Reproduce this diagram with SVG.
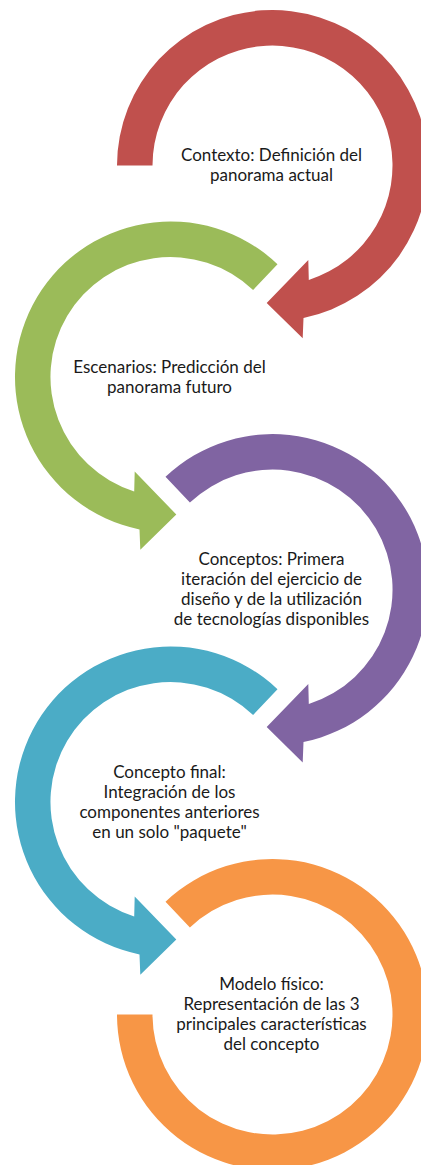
<svg xmlns="http://www.w3.org/2000/svg" width="421" height="1165" viewBox="0 0 421 1165">
<style>
.lbl{font-family:Lato,"Liberation Sans",sans-serif;font-size:17px;fill:#1a1a1a;text-anchor:middle}
.red{fill:#C0504D}.green{fill:#9BBB59}.purple{fill:#8064A2}.teal{fill:#4BACC6}.orange{fill:#F79646}
</style>
<rect width="421" height="1165" fill="#fff"/>
<g id="connectors"/>
<g id="node-contexto" transform="translate(272.5,165.5)">
<path class="red" d="M -155.5 0 A 155.5 155.5 0 1 1 31.0 152.4 L 30.2 172.8 L -5.8 137.5 L 35.8 94.5 L 36.3 114.4 A 120 120 0 1 0 -120 0 Z"/>
<text class="lbl"><tspan x="-1" y="-4.5">Contexto: Definición del</tspan><tspan x="-1" y="15.5">panorama actual</tspan></text>
</g>
<g id="node-escenarios" transform="translate(170.5,377)">
<path class="green" d="M 107.0 -112.8 A 155.5 155.5 0 1 0 -31.0 152.4 L -30.2 172.8 L 5.8 137.5 L -35.8 94.5 L -36.3 114.4 A 120 120 0 1 1 82.6 -87.0 Z"/>
<text class="lbl"><tspan x="-1" y="-4.5">Escenarios: Predicción del</tspan><tspan x="-1" y="15.5">panorama futuro</tspan></text>
</g>
<g id="node-conceptos" transform="translate(272.5,589.6)">
<path class="purple" d="M -107.0 -112.8 A 155.5 155.5 0 1 1 31.0 152.4 L 30.2 172.8 L -5.8 137.5 L 35.8 94.5 L 36.3 114.4 A 120 120 0 1 0 -82.6 -87.0 Z"/>
<text class="lbl"><tspan x="-1" y="-24.5">Conceptos: Primera</tspan><tspan x="-1" y="-4.5">iteración del ejercicio de</tspan><tspan x="-1" y="15.5">diseño y de la utilización</tspan><tspan x="-1" y="35.5">de tecnologías disponibles</tspan></text>
</g>
<g id="node-concepto-final" transform="translate(170.5,802)">
<path class="teal" d="M 107.0 -112.8 A 155.5 155.5 0 1 0 -31.0 152.4 L -30.2 172.8 L 5.8 137.5 L -35.8 94.5 L -36.3 114.4 A 120 120 0 1 1 82.6 -87.0 Z"/>
<text class="lbl"><tspan x="-1" y="-24.5">Concepto final:</tspan><tspan x="-1" y="-4.5">Integración de los</tspan><tspan x="-1" y="15.5">componentes anteriores</tspan><tspan x="-1" y="35.5">en un solo "paquete"</tspan></text>
</g>
<g id="node-modelo" transform="translate(272.5,1014.5)">
<path class="orange" d="M -107.0 -112.8 A 155.5 155.5 0 1 1 -155.5 0 L -120 0 A 120 120 0 1 0 -82.6 -87.0 Z"/>
<text class="lbl"><tspan x="-1" y="-24.5">Modelo físico:</tspan><tspan x="-1" y="-4.5">Representación de las 3</tspan><tspan x="-1" y="15.5">principales características</tspan><tspan x="-1" y="35.5">del concepto</tspan></text>
</g>
</svg>
